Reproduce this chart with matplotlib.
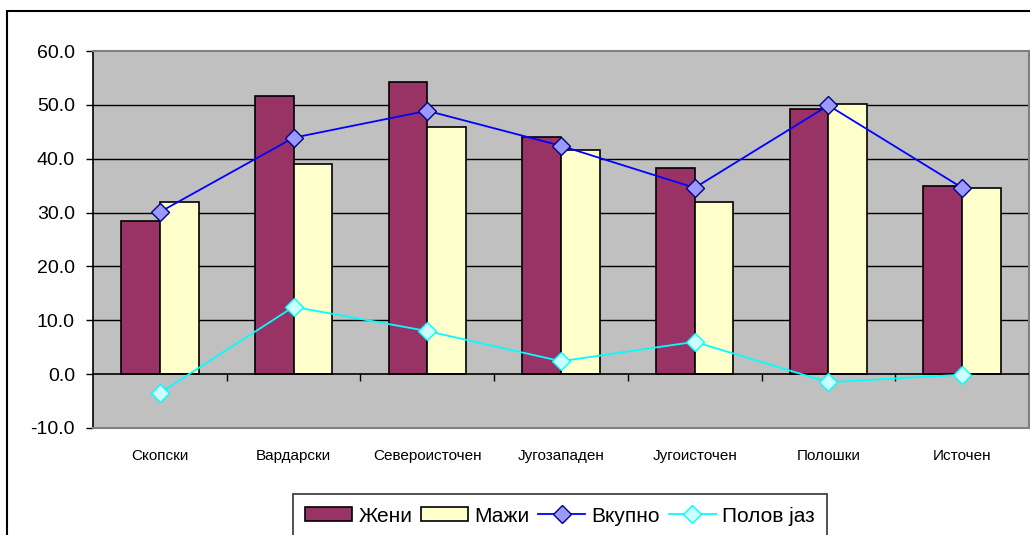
import numpy as np
import matplotlib
matplotlib.use("Agg")
import matplotlib.pyplot as plt
from matplotlib.patches import Rectangle, Patch
from matplotlib.lines import Line2D

plt.rcParams['font.family'] = ['Liberation Sans', 'DejaVu Sans']

# ---- data ----
regions = ["Скопски", "Вардарски", "Североисточен", "Југозападен",
           "Југоисточен", "Полошки", "Источен"]
zheni = [28.5, 51.6, 54.3, 44.1, 38.3, 49.3, 34.9]
mazhi = [31.9, 39.0, 45.9, 41.7, 31.9, 50.2, 34.6]
vkupno = [30.1, 43.9, 48.9, 42.4, 34.6, 49.9, 34.6]
jaz = [-3.5, 12.5, 8.0, 2.4, 6.0, -1.5, -0.1]
yticks = [-10, 0, 10, 20, 30, 40, 50, 60]

W, H = 1030, 535
fig = plt.figure(figsize=(W / 100, H / 100), dpi=100)
fig.patch.set_facecolor("white")

# outer chart border (cut off right and bottom)
fig.patches.append(Rectangle((7 / W, -0.1), 1.2, (H - 11) / H + 0.1,
                             transform=fig.transFigure, fill=False,
                             ec="black", lw=1.5, zorder=0))

ax = fig.add_axes([93 / W, 107 / H, 936 / W, 377 / H])
ax.set_facecolor("#C0C0C0")

x = np.arange(len(regions))
bw = 0.29
ax.bar(x - bw / 2, zheni, bw, color="#993366", ec="black", lw=1.2, zorder=3)
ax.bar(x + bw / 2, mazhi, bw, color="#FFFFCC", ec="black", lw=1.2, zorder=3)
ax.plot(x, vkupno, color="#0000FF", lw=1.3, marker="D", ms=9,
        mfc="#9999FF", mec="#000080", mew=1.0, zorder=5)
ax.plot(x, jaz, color="#00FFFF", lw=1.3, marker="D", ms=9,
        mfc="#CCFFFF", mec="#00FFFF", mew=1.0, zorder=5)

ax.set_xlim(-0.5, len(regions) - 0.5)
ax.set_ylim(-10, 60)
ax.set_yticks(yticks)
ax.set_yticklabels([f"{v:.1f}" for v in yticks], fontsize=14)
for v in yticks[2:-1]:
    ax.axhline(v, color="black", lw=1.0, zorder=1)
ax.axhline(0, color="black", lw=1.2, zorder=4)

ax.set_xticks(x)
ax.set_xticklabels(regions, fontsize=11)
ax.tick_params(axis="x", length=0, pad=15)
ax.tick_params(axis="y", direction="out", length=5, width=1, pad=8)

for s in ["top", "right", "bottom"]:
    ax.spines[s].set_color("#808080")
    ax.spines[s].set_linewidth(1.5)
ax.spines["left"].set_color("black")
ax.spines["left"].set_linewidth(1.2)

# tick marks at category boundaries on the zero line
sec = ax.secondary_xaxis(10 / 70)
sec.set_xticks(np.arange(0.5, len(regions) - 0.5 + 0.01, 1.0))
sec.tick_params(axis="x", direction="out", length=5, width=1, labelbottom=False,
                labeltop=False, top=False, bottom=True)
sec.spines["bottom"].set_visible(False)
sec.spines["top"].set_visible(False)

handles = [
    Patch(facecolor="#993366", edgecolor="black", lw=1.2),
    Patch(facecolor="#FFFFCC", edgecolor="black", lw=1.2),
    Line2D([], [], color="#0000FF", lw=1.3, marker="D", ms=9,
           mfc="#9999FF", mec="#000080"),
    Line2D([], [], color="#00FFFF", lw=1.3, marker="D", ms=9,
           mfc="#CCFFFF", mec="#00FFFF"),
]
leg = fig.legend(handles, ["Жени", "Мажи", "Вкупно", "Полов јаз"],
                 loc="upper center", bbox_to_anchor=(560 / W, (H - 494) / H),
                 ncol=4, fontsize=15, frameon=True, fancybox=False,
                 edgecolor="black", handlelength=2.25, handleheight=0.65,
                 handletextpad=0.3, columnspacing=0.42, borderpad=0.6,
                 borderaxespad=0)
leg.get_frame().set_linewidth(1.2)

fig.savefig("out.png", dpi=100)
